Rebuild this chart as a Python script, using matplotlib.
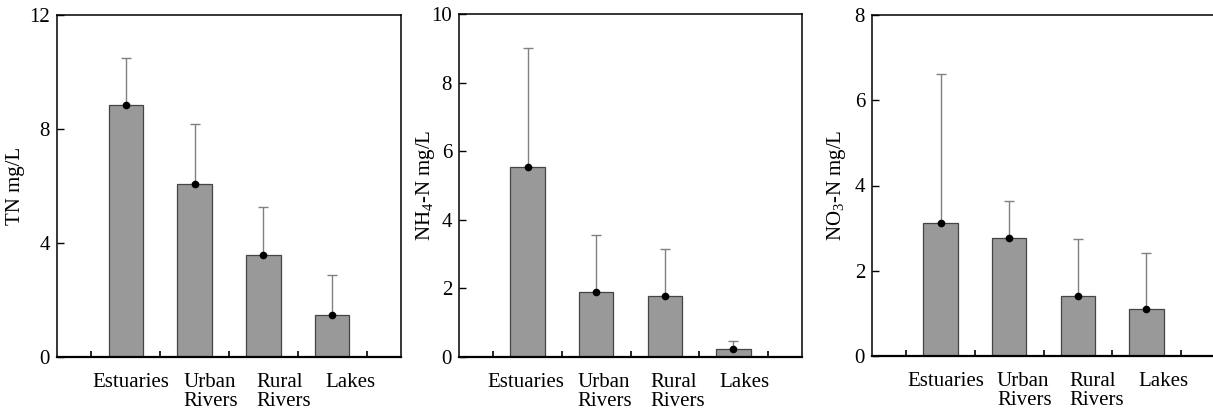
import matplotlib
matplotlib.use("Agg")
import matplotlib.pyplot as plt
import numpy as np

plt.rcParams['font.family'] = ['Liberation Serif', 'DejaVu Serif']
plt.rcParams['mathtext.fontset'] = 'custom'
plt.rcParams['mathtext.rm'] = 'Liberation Serif'
plt.rcParams['mathtext.it'] = 'Liberation Serif'

categories = ["Estuaries", "Urban\nRivers", "Rural\nRivers", "Lakes"]

tn_mean = [8.84, 6.08, 3.57, 1.46]
tn_upper = [10.48, 8.19, 5.25, 2.87]

nh4_mean = [5.53, 1.90, 1.79, 0.24]
nh4_upper = [9.00, 3.56, 3.15, 0.46]

no3_mean = [3.13, 2.77, 1.41, 1.10]
no3_upper = [6.61, 3.64, 2.74, 2.41]

ylabels = ["TN mg/L", r"NH$_{\mathrm{4}}$-N mg/L", r"NO$_{\mathrm{3}}$-N mg/L"]
ylims = [12, 10, 8]
yticks = [[0, 4, 8, 12], [0, 2, 4, 6, 8, 10], [0, 2, 4, 6, 8]]

W, H = 1213, 412
fig = plt.figure(figsize=(W / 100, H / 100), dpi=100)

# axes boxes in pixels: left, top, right, bottom
boxes = [(57, 15, 401, 357), (459, 14, 802, 357), (872, 15, 1215, 356)]
label_pads = [32, 22, 24]
label_shift = [0.08, 0.23, 0.29, 0.26]
panel_shift = [0.0, -0.1, -0.01]

data = [(tn_mean, tn_upper), (nh4_mean, nh4_upper), (no3_mean, no3_upper)]

for i, (means, upper) in enumerate(data):
    l, t, r, b = boxes[i]
    ax = fig.add_axes([l / W, 1 - b / H, (r - l) / W, (b - t) / H])
    x = np.arange(len(categories))
    means = np.array(means)
    err = np.array(upper) - means
    ax.bar(x, means, width=0.5, color='#999999', edgecolor='#444444', linewidth=0.9, zorder=2)
    ax.errorbar(x, means, yerr=[np.zeros_like(err), err], fmt='none', ecolor='#808080',
                elinewidth=1.0, capsize=3.5, capthick=1.0, zorder=1)
    ax.plot(x, means, 'o', color='black', markersize=4.5, zorder=3)

    ax.set_xlim(-1, 4)
    ax.set_ylim(0, ylims[i])
    ax.set_yticks(yticks[i])
    ax.set_xticks(np.arange(-0.5, 4, 1.0))
    ax.set_xticklabels([])
    ax.tick_params(axis='y', direction='in', length=5, width=1, labelsize=15, pad=5)
    ax.tick_params(axis='x', direction='in', length=4.5, width=1.2)
    for s in ax.spines.values():
        s.set_linewidth(1.1)
    ax.spines['bottom'].set_linewidth(1.6)

    for j, cat in enumerate(categories):
        ax.text(j + label_shift[j] + panel_shift[i], -0.046, cat,
                transform=ax.get_xaxis_transform(),
                ha='center', va='top', fontsize=15, linespacing=1.0,
                multialignment='left')

    ax.set_ylabel(ylabels[i], fontsize=15)
    ax.yaxis.set_label_coords(-label_pads[i] / (r - l), 0.5)

fig.savefig("out.png", dpi=100)
